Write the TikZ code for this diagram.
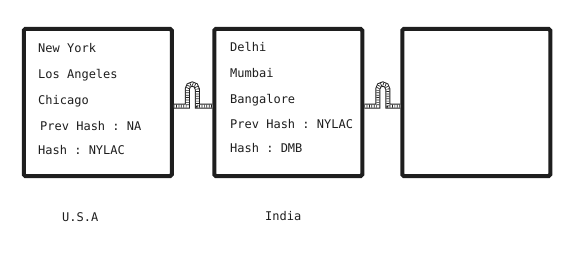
\documentclass[tikz,border=0pt]{standalone}
\usepackage{fontspec}
\setmonofont{DejaVu Sans Mono}
\begin{document}
\begin{tikzpicture}[x=1pt,y=1pt,
  block/.style={draw=ink, line width=4pt, rounded corners=1.5pt,
    minimum width=148pt, minimum height=147pt, inner sep=0pt, fill=white},
  rowtext/.style={anchor=base west, inner sep=0pt, text=ink,
    font=\ttfamily\fontsize{12}{14}\selectfont},
  chainouter/.style={draw=ink, line width=5pt},
  chaininner/.style={draw=white, line width=3pt},
  chainlinks/.style={draw=ink, line width=3pt, dash pattern=on 0.7pt off 1.7pt}
]
\definecolor{ink}{HTML}{1E1E1E}
\useasboundingbox (0,0) rectangle (588,255);

% the three blocks
\node[block] (b1) at (97.75,152.5) {};
\node[block] (b2) at (288.25,152.5) {};
\node[block] (b3) at (476.25,152.5) {};

% chain links between consecutive blocks
\foreach \a/\b in {b1/b2, b2/b3}{
  \foreach \s in {chainouter, chaininner, chainlinks}{
    \draw[\s] ([yshift=-3.5pt]\a.east) -- ++(13.5,0) -- ++(0,17)
      arc[start angle=180, end angle=0, radius=5] -- ++(0,-17)
      -- ([yshift=-3.5pt]\b.west);
  }
}

% contents of the first block
\node[rowtext] (b1r1) at (38,203) {New York};
\node[rowtext] (b1r2) at (38,177) {Los Angeles};
\node[rowtext] (b1r3) at (38,151) {Chicago};
\node[rowtext] (b1r4) at (40,125) {Prev Hash : NA};
\node[rowtext] (b1r5) at (38,101) {Hash : NYLAC};

% contents of the second block
\node[rowtext] (b2r1) at (230,204) {Delhi};
\node[rowtext] (b2r2) at (230,178) {Mumbai};
\node[rowtext] (b2r3) at (230,152) {Bangalore};
\node[rowtext] (b2r4) at (230,127) {Prev Hash : NYLAC};
\node[rowtext] (b2r5) at (230,103) {Hash : DMB};

% captions under the blocks
\node[rowtext] (cap1) at (62,34) {U.S.A};
\node[rowtext] (cap2) at (265,35) {India};
\end{tikzpicture}
\end{document}
